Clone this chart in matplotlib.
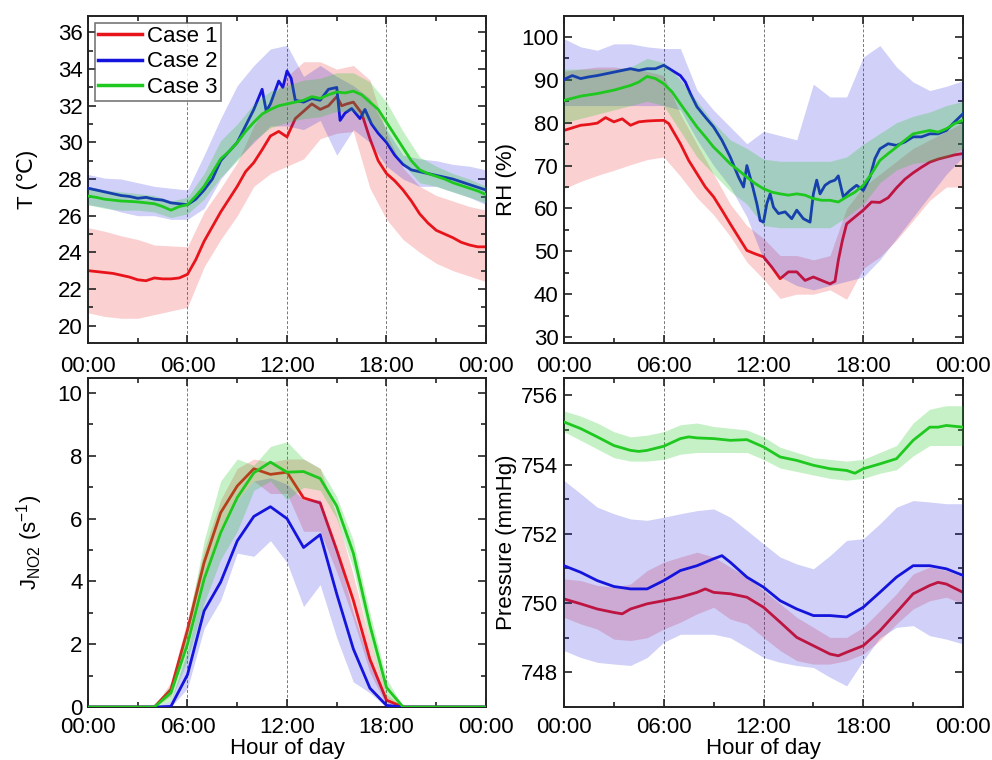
import numpy as np
import matplotlib
matplotlib.use("Agg")
import matplotlib.pyplot as plt
from matplotlib.ticker import MultipleLocator, FixedLocator

plt.rcParams['font.family'] = ['Liberation Sans', 'DejaVu Sans']
plt.rcParams['mathtext.default'] = 'regular'

# ---------------- data ----------------
case_names = ["Case 1", "Case 2", "Case 3"]
xtick_labels = ["00:00", "06:00", "12:00", "18:00", "00:00"]
band_hours = list(range(25))

# Temperature (deg C)
t_c1_h = [0, 0.5, 1, 1.5, 2, 2.5, 3, 3.5, 4, 4.5, 5, 5.5, 6, 6.5, 7, 7.5, 8, 8.5, 9, 9.5, 10, 10.5, 11, 11.5, 12,
          12.5, 13, 13.5, 14, 14.5, 15, 15.3, 15.6, 16, 16.5, 17, 17.5, 18, 18.5, 19, 19.5, 20, 20.5, 21, 21.5, 22,
          22.5, 23, 23.5, 24]
t_c1 = [23.0, 22.95, 22.9, 22.85, 22.75, 22.65, 22.5, 22.45, 22.6, 22.55, 22.55, 22.6, 22.8, 23.6, 24.6, 25.4, 26.2,
        26.9, 27.6, 28.4, 28.9, 29.6, 30.35, 30.6, 30.3, 31.3, 31.7, 32.1, 31.8, 32.0, 32.5, 32.0, 32.1, 32.2, 31.6,
        30.2, 29.0, 28.3, 27.9, 27.4, 26.8, 26.1, 25.6, 25.2, 25.0, 24.8, 24.55, 24.4, 24.3, 24.3]
t_c1_hi = [25.35, 25.15, 24.9, 24.7, 24.4, 24.35, 24.3, 26.2, 27.5, 28.9, 30.9, 32.3, 33.6, 34.4, 34.4, 34.0, 34.2,
           33.4, 30.5, 28.6, 27.6, 27.1, 26.8, 26.5, 26.3]
t_c1_lo = [20.7, 20.5, 20.4, 20.4, 20.6, 20.8, 21.0, 23.2, 24.7, 26.0, 27.6, 28.3, 28.7, 29.1, 30.2, 30.5, 30.6,
           27.5, 25.8, 24.7, 24.0, 23.4, 23.0, 22.7, 22.4]

t_c2_h = [0, 0.5, 1, 1.5, 2, 2.5, 3, 3.5, 4, 4.5, 5, 5.5, 6, 6.5, 7, 7.5, 8, 8.5, 9, 9.5, 10, 10.5, 10.75, 11, 11.5,
          11.75, 12, 12.25, 12.5, 13, 13.5, 14, 14.5, 15, 15.2, 15.5, 15.9, 16.4, 16.7, 17.1, 17.5, 18, 18.5, 19,
          19.5, 20, 20.5, 21, 21.5, 22, 22.5, 23, 23.5, 24]
t_c2 = [27.5, 27.4, 27.3, 27.2, 27.1, 27.05, 26.95, 27.0, 26.9, 26.85, 26.7, 26.65, 26.6, 26.9, 27.4, 28.0, 29.0,
        29.5, 30.0, 30.9, 31.8, 32.9, 31.7, 32.1, 33.35, 33.0, 33.9, 33.5, 32.3, 32.2, 32.4, 32.3, 32.9, 33.0, 31.2,
        31.6, 31.85, 31.3, 31.8, 31.0, 30.5, 30.0, 29.3, 28.8, 28.5, 28.4, 28.3, 28.2, 28.1, 28.0, 27.85, 27.7,
        27.55, 27.4]
t_c2_hi = [28.25, 28.05, 28.0, 27.8, 27.6, 27.5, 27.4, 29.3, 31.3, 33.1, 34.2, 35.1, 35.3, 33.6, 34.2, 33.6, 33.1,
           32.4, 30.7, 29.3, 29.1, 29.0, 28.8, 28.7, 28.5]
t_c2_lo = [26.6, 26.45, 26.2, 26.0, 26.0, 25.8, 25.8, 26.4, 28.0, 29.1, 30.0, 30.9, 30.9, 30.7, 31.2, 29.3, 30.7,
           30.0, 28.7, 28.0, 27.6, 27.6, 27.3, 27.0, 26.6]

t_c3_h = [0, 0.5, 1, 1.5, 2, 2.5, 3, 3.5, 4, 4.5, 5, 5.5, 6, 6.5, 7, 7.5, 8, 8.5, 9, 9.5, 10, 10.5, 11, 11.5, 12,
          12.5, 13, 13.5, 14, 14.5, 15, 15.5, 16, 16.5, 17, 17.5, 18, 18.5, 19, 19.5, 20, 20.5, 21, 21.5, 22, 22.5,
          23, 23.5, 24]
t_c3 = [27.07, 27.0, 26.9, 26.85, 26.8, 26.78, 26.75, 26.7, 26.65, 26.5, 26.3, 26.5, 26.6, 27.07, 27.6, 28.35, 29.1,
        29.5, 30.0, 30.6, 31.1, 31.55, 31.8, 32.0, 32.1, 32.2, 32.3, 32.5, 32.4, 32.6, 32.75, 32.7, 32.8, 32.6, 32.2,
        31.8, 31.1, 30.4, 29.7, 29.0, 28.5, 28.3, 28.15, 28.0, 27.8, 27.65, 27.5, 27.35, 27.15]
t_c3_hi = [27.6, 27.4, 27.3, 27.2, 27.1, 26.8, 27.0, 28.3, 30.1, 31.0, 32.1, 32.8, 33.1, 33.4, 33.5, 33.8, 33.8,
           33.3, 32.2, 30.6, 29.2, 28.7, 28.3, 28.0, 27.6]
t_c3_lo = [26.6, 26.4, 26.3, 26.3, 26.2, 25.9, 26.1, 26.9, 28.1, 29.0, 30.1, 30.8, 31.1, 31.3, 31.4, 31.7, 31.7,
           31.1, 30.0, 28.8, 27.8, 27.6, 27.3, 27.0, 26.7]

# Relative humidity (%)
rh_c1_h = [0, 0.5, 1, 1.5, 2, 2.5, 3, 3.5, 4, 4.5, 5, 5.5, 6, 6.3, 7, 7.5, 8, 8.5, 9, 9.5, 10, 10.5, 11, 11.5, 12,
           12.5, 13, 13.5, 14, 14.5, 15, 15.5, 16, 16.3, 16.5, 16.75, 17, 17.5, 18, 18.5, 19, 19.5, 20, 20.5, 21,
           21.5, 22, 22.5, 23, 23.5, 24]
rh_c1 = [78.2, 78.8, 79.4, 79.6, 79.9, 81.2, 80.2, 80.9, 79.4, 80.2, 80.4, 80.5, 80.55, 79.8, 75.1, 71.2, 68.1, 65.0,
         62.7, 59.6, 56.4, 53.3, 50.2, 49.4, 48.7, 46.3, 43.6, 45.2, 45.2, 43.2, 44.0, 43.2, 42.4, 43.0, 47.9, 52.6,
         56.4, 58.0, 59.6, 61.5, 61.4, 62.5, 64.8, 66.8, 68.3, 69.6, 70.8, 71.5, 72.0, 72.5, 72.8]
rh_c1_hi = [92.0, 92.5, 93.0, 93.0, 92.5, 92.0, 91.0, 82.0, 75.0, 68.0, 61.0, 56.0, 53.0, 49.0, 49.0, 48.0, 49.0,
            60.0, 65.0, 68.0, 71.0, 74.0, 76.0, 78.0, 80.0]
rh_c1_lo = [64.6, 66.3, 67.7, 68.9, 70.2, 71.4, 72.0, 67.5, 62.5, 58.5, 53.5, 47.5, 43.5, 39.0, 40.0, 40.0, 41.0,
            38.8, 46.0, 48.7, 52.6, 57.2, 61.9, 65.0, 65.0]

rh_c2_h = [0, 0.5, 1, 1.5, 2, 2.5, 3, 3.5, 4, 4.5, 5, 5.5, 6, 6.5, 7, 7.3, 7.6, 8, 8.5, 9, 9.5, 10, 10.5, 10.8, 11.0,
           11.3, 11.6, 11.8, 12.0, 12.2, 12.4, 12.6, 12.9, 13.3, 13.7, 14.0, 14.4, 14.8, 15.0, 15.2, 15.4, 15.7, 16.0,
           16.3, 16.5, 16.8, 17.2, 17.6, 18.0, 18.4, 18.7, 19, 19.5, 20, 20.5, 21, 21.5, 22, 22.5, 23, 23.5, 24]
rh_c2 = [90.1, 91.0, 90.3, 90.7, 91.0, 91.4, 91.8, 92.2, 92.6, 92.2, 92.6, 92.6, 93.4, 92.2, 91.0, 89.5, 86.8, 83.7,
         81.3, 79.0, 75.9, 72.0, 67.3, 65.0, 70.0, 65.8, 61.1, 57.2, 56.8, 61.1, 63.4, 60.3, 58.8, 59.2, 57.6, 59.6,
         57.6, 56.8, 63.4, 66.6, 63.4, 65.4, 66.2, 66.6, 67.6, 62.7, 64.2, 65.4, 64.2, 67.3, 71.6, 73.9, 75.1, 74.7,
         75.5, 76.7, 76.7, 77.4, 77.4, 78.2, 80.2, 82.1]
rh_c2_hi = [99.6, 97.7, 96.9, 98.4, 98.4, 97.7, 97.3, 97.3, 87.6, 82.9, 79.0, 75.1, 78.0, 77.0, 76.0, 89.0, 86.0,
            86.0, 95.3, 98.0, 93.0, 89.5, 87.5, 88.5, 89.8]
rh_c2_lo = [84.0, 84.0, 84.0, 84.0, 84.0, 84.0, 84.0, 83.0, 76.0, 70.0, 65.0, 58.0, 48.0, 44.0, 42.0, 41.0, 42.0,
            43.0, 44.0, 48.0, 53.0, 58.0, 63.0, 68.0, 72.0]

rh_c3_h = [0, 1, 2, 3, 4, 4.5, 5, 5.5, 6, 6.5, 7, 7.5, 8, 8.5, 9, 9.5, 10, 10.5, 11, 11.5, 12, 12.5, 13, 13.5, 14,
           14.5, 15, 15.5, 16, 16.5, 17, 17.5, 18, 18.5, 19, 19.5, 20, 20.5, 21, 21.5, 22, 22.5, 23, 23.5, 24]
rh_c3 = [85.2, 86.2, 86.8, 87.6, 88.7, 89.5, 90.8, 90.3, 89.1, 87.2, 84.4, 81.7, 79.0, 76.7, 74.3, 72.4, 70.4, 68.9,
         67.3, 65.8, 64.6, 63.8, 63.4, 63.1, 63.4, 63.1, 62.3, 61.9, 61.9, 61.5, 62.7, 63.8, 65.4, 68.1, 71.2, 72.8,
         74.3, 75.9, 77.4, 77.8, 78.2, 77.8, 78.6, 79.8, 80.6]
rh_c3_hi = [92.5, 92.5, 92.5, 92.5, 93.0, 95.0, 94.0, 90.0, 85.0, 80.0, 76.0, 74.0, 71.5, 71.0, 71.0, 71.0, 71.0,
            72.0, 75.0, 77.5, 80.0, 81.5, 82.5, 84.0, 85.0]
rh_c3_lo = [80.0, 81.0, 82.0, 83.0, 84.0, 85.0, 84.0, 78.0, 72.0, 68.0, 64.0, 61.0, 56.0, 55.5, 55.5, 55.5, 55.5,
            58.0, 61.0, 66.0, 69.0, 70.5, 71.0, 72.0, 74.0]

# J_NO2 (s^-1), hourly
j_c1 = [0, 0, 0, 0, 0, 0.56, 2.45, 4.6, 6.19, 7.04, 7.59, 7.41, 7.48, 6.66, 6.5, 5.0, 3.4, 1.52, 0.22, 0, 0, 0, 0, 0, 0]
j_c1_hi = [0, 0, 0, 0, 0, 0.8, 2.8, 5.0, 6.6, 7.6, 7.9, 7.8, 7.9, 7.9, 7.6, 6.1, 4.2, 2.1, 0.4, 0, 0, 0, 0, 0, 0]
j_c1_lo = [0, 0, 0, 0, 0, 0.35, 2.1, 4.2, 5.7, 6.6, 7.2, 6.8, 6.8, 5.6, 5.6, 4.3, 2.8, 1.1, 0.05, 0, 0, 0, 0, 0, 0]
j_c2 = [0, 0, 0, 0, 0, 0.02, 1.03, 3.06, 3.98, 5.29, 6.07, 6.38, 6.0, 5.08, 5.49, 3.6, 1.85, 0.6, 0.05, 0, 0, 0, 0, 0, 0]
j_c2_hi = [0, 0, 0, 0, 0, 0.2, 1.8, 4.0, 5.5, 6.6, 7.2, 7.3, 7.1, 6.6, 6.6, 5.0, 3.0, 1.4, 0.2, 0, 0, 0, 0, 0, 0]
j_c2_lo = [0, 0, 0, 0, 0, 0, 0.6, 2.5, 3.4, 4.9, 4.8, 5.3, 4.6, 3.2, 3.9, 2.2, 0.8, 0.45, 0, 0, 0, 0, 0, 0, 0]
j_c3 = [0, 0, 0, 0, 0, 0.45, 2.0, 4.07, 5.55, 6.67, 7.46, 7.8, 7.48, 7.5, 7.28, 6.4, 4.9, 2.6, 0.62, 0, 0, 0, 0, 0, 0]
j_c3_hi = [0, 0, 0, 0, 0, 0.7, 2.6, 5.3, 7.2, 7.9, 7.7, 8.3, 8.45, 7.9, 7.6, 6.7, 5.3, 3.0, 0.9, 0, 0, 0, 0, 0, 0]
j_c3_lo = [0, 0, 0, 0, 0, 0.2, 1.5, 3.3, 4.7, 5.6, 6.9, 7.2, 6.6, 7.0, 6.9, 6.0, 4.4, 2.1, 0.3, 0, 0, 0, 0, 0, 0]

# Pressure (mmHg)
p_c1_h = [0, 1, 2, 3, 3.5, 4, 5, 6, 7, 8, 8.5, 9, 10, 11, 12, 13, 14, 15, 16, 16.5, 17, 18, 19, 20, 21, 22, 22.5,
          23, 24]
p_c1 = [750.12, 749.98, 749.83, 749.73, 749.69, 749.83, 749.98, 750.07, 750.17, 750.31, 750.41, 750.31, 750.27,
        750.17, 749.88, 749.45, 749.01, 748.77, 748.53, 748.48, 748.58, 748.77, 749.2, 749.73, 750.27, 750.51,
        750.6, 750.55, 750.31]
p_c1_hi = [750.7, 750.65, 750.51, 750.46, 750.55, 750.94, 751.18, 751.33, 751.47, 751.33, 751.04, 750.75, 750.36,
           749.98, 749.59, 749.3, 749.01, 749.01, 749.3, 749.78, 750.27, 750.84, 751.04, 750.94, 750.75]
p_c1_lo = [749.59, 749.4, 749.25, 748.96, 748.92, 749.0, 749.25, 749.45, 749.69, 749.88, 749.54, 749.4, 749.01,
           748.63, 748.34, 748.24, 748.24, 748.34, 748.53, 748.92, 749.4, 749.83, 750.07, 750.17, 749.98]

p_c2_h = [0, 1, 2, 3, 4, 5, 6, 7, 8, 9, 9.5, 10, 11, 12, 13, 14, 15, 16, 17, 18, 19, 20, 21, 22, 23, 24]
p_c2 = [751.08, 750.89, 750.65, 750.48, 750.41, 750.41, 750.65, 750.94, 751.08, 751.28, 751.37, 751.18, 750.75,
        750.46, 750.07, 749.83, 749.64, 749.64, 749.6, 749.88, 750.31, 750.75, 751.08, 751.08, 750.99, 750.8]
p_c2_hi = [753.54, 753.16, 752.77, 752.58, 752.43, 752.39, 752.48, 752.58, 752.67, 752.72, 752.48, 752.1, 751.71,
           751.33, 751.13, 750.99, 751.37, 751.81, 751.86, 752.29, 752.77, 752.96, 752.92, 752.87, 752.87]
p_c2_lo = [748.63, 748.43, 748.29, 748.24, 748.2, 748.43, 748.87, 749.1, 749.1, 749.1, 749.0, 748.72, 748.43,
           748.29, 748.2, 748.14, 747.86, 747.61, 748.34, 749.0, 749.3, 749.35, 749.06, 748.96, 748.82]

p_c3_h = [0, 1, 2, 3, 4, 4.5, 5, 6, 7, 7.5, 8, 9, 10, 11, 12, 13, 14, 15, 16, 17, 17.5, 18, 19, 20, 21, 22, 22.5,
          23, 24]
p_c3 = [755.23, 755.04, 754.8, 754.55, 754.41, 754.38, 754.41, 754.53, 754.75, 754.8, 754.77, 754.75, 754.7,
        754.72, 754.51, 754.22, 754.12, 753.98, 753.88, 753.83, 753.75, 753.88, 754.02, 754.17, 754.7, 755.08,
        755.08, 755.13, 755.08]
p_c3_hi = [755.55, 755.4, 755.2, 754.95, 754.8, 754.85, 754.95, 755.15, 755.2, 755.1, 755.05, 755.0, 754.8, 754.5,
           754.35, 754.2, 754.15, 754.1, 754.15, 754.35, 754.55, 755.2, 755.6, 755.7, 755.7]
p_c3_lo = [754.95, 754.7, 754.45, 754.2, 754.1, 754.1, 754.15, 754.3, 754.35, 754.35, 754.35, 754.35, 754.15,
           753.9, 753.8, 753.7, 753.6, 753.55, 753.6, 753.75, 753.85, 754.25, 754.55, 754.55, 754.55]

# ---------------- style ----------------
line_colors = ["#e8141c", "#1414dc", "#1ec81e"]
band_alpha = [0.2, 0.2, 0.25]
FS = 16

fig = plt.figure(figsize=(9.92, 7.6), dpi=100)
axes_rect = {
    "T": [88 / 992, 1 - 343 / 760, 398 / 992, 327 / 760],
    "RH": [564 / 992, 1 - 343 / 760, 399 / 992, 327 / 760],
    "J": [88 / 992, 1 - 707 / 760, 398 / 992, 329 / 760],
    "P": [564 / 992, 1 - 707 / 760, 399 / 992, 329 / 760],
}


def style_axis(ax, ylim, ymajor, yminor, ylabel, xlabel=None, xpad=6, ylabelpad=3):
    ax.set_xlim(0, 24)
    ax.set_ylim(*ylim)
    ax.xaxis.set_major_locator(FixedLocator([0, 6, 12, 18, 24]))
    ax.set_xticklabels(xtick_labels)
    ax.xaxis.set_minor_locator(MultipleLocator(3))
    ax.yaxis.set_major_locator(MultipleLocator(ymajor))
    ax.yaxis.set_minor_locator(MultipleLocator(yminor))
    ax.tick_params(which='both', direction='in', top=True, right=True, labelsize=FS, width=1.2, color='#222222')
    ax.tick_params(which='major', length=6)
    ax.tick_params(which='minor', length=3.5)
    ax.tick_params(axis='x', pad=xpad)
    ax.tick_params(axis='y', pad=4)
    for sp in ax.spines.values():
        sp.set_linewidth(1.4)
        sp.set_color('#222222')
    for xv in [0, 6, 12, 18, 24]:
        ax.axvline(xv, color='#777777', lw=0.7, ls=(0, (3, 2)), zorder=0.5)
    ax.set_ylabel(ylabel, fontsize=FS, labelpad=ylabelpad)
    if xlabel:
        ax.set_xlabel(xlabel, fontsize=FS, labelpad=0)


def draw(ax, series):
    z = 1
    for i, (hx, mean, bhx, hi, lo) in enumerate(series):
        ax.fill_between(bhx, lo, hi, color=line_colors[i], alpha=band_alpha[i], lw=0, zorder=z)
        ax.plot(hx, mean, color=line_colors[i], lw=2.0, zorder=z + 1, label=case_names[i])
        z += 2


axT = fig.add_axes(axes_rect["T"])
draw(axT, [(t_c1_h, t_c1, band_hours, t_c1_hi, t_c1_lo),
           (t_c2_h, t_c2, band_hours, t_c2_hi, t_c2_lo),
           (t_c3_h, t_c3, band_hours, t_c3_hi, t_c3_lo)])
style_axis(axT, (19.05, 36.9), 2, 1, "T (\u2103)", xpad=9, ylabelpad=14)
leg = axT.legend(loc='upper left', fontsize=16, frameon=True, fancybox=False, handlelength=2.0,
                 handletextpad=0.2, borderpad=0.15, labelspacing=0.2, borderaxespad=0.3)
leg.get_frame().set_edgecolor('#555555')
leg.get_frame().set_linewidth(1.2)
for lh in leg.get_lines():
    lh.set_linewidth(2.5)

axRH = fig.add_axes(axes_rect["RH"])
draw(axRH, [(rh_c1_h, rh_c1, band_hours, rh_c1_hi, rh_c1_lo),
            (rh_c2_h, rh_c2, band_hours, rh_c2_hi, rh_c2_lo),
            (rh_c3_h, rh_c3, band_hours, rh_c3_hi, rh_c3_lo)])
style_axis(axRH, (28.6, 104.9), 10, 5, "RH (%)", xpad=9, ylabelpad=3)

axJ = fig.add_axes(axes_rect["J"])
draw(axJ, [(band_hours, j_c1, band_hours, j_c1_hi, j_c1_lo),
           (band_hours, j_c2, band_hours, j_c2_hi, j_c2_lo),
           (band_hours, j_c3, band_hours, j_c3_hi, j_c3_lo)])
style_axis(axJ, (0, 10.48), 2, 1, "J$_{NO2}$ (s$^{-1}$)", "Hour of day", xpad=7.5, ylabelpad=9)

axP = fig.add_axes(axes_rect["P"])
draw(axP, [(p_c1_h, p_c1, band_hours, p_c1_hi, p_c1_lo),
           (p_c2_h, p_c2, band_hours, p_c2_hi, p_c2_lo),
           (p_c3_h, p_c3, band_hours, p_c3_hi, p_c3_lo)])
style_axis(axP, (747.0, 756.5), 2, 1, "Pressure (mmHg)", "Hour of day", xpad=7.5, ylabelpad=3)

fig.savefig("out.png", dpi=100)
